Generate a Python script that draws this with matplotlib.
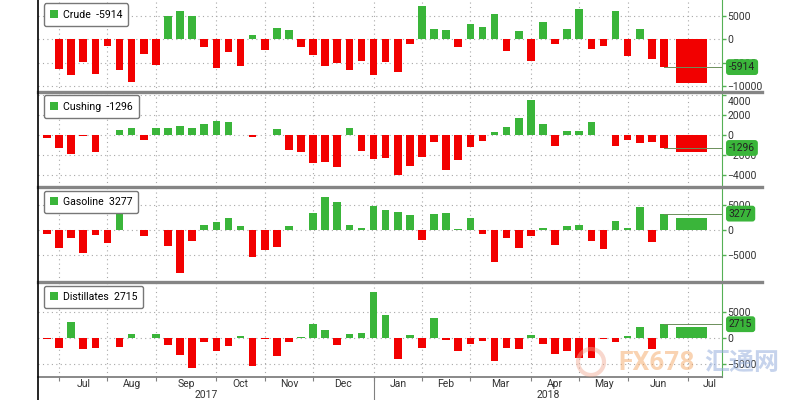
import matplotlib
matplotlib.use("Agg")
import matplotlib.pyplot as plt
import matplotlib.transforms as mtransforms
from matplotlib.patches import Patch, Ellipse
from matplotlib.lines import Line2D

# weekly inventory changes (thousand barrels), Jun 2017 - Jun 2018
names = ["Crude", "Cushing", "Gasoline", "Distillates"]
crude = [0, -6400, -7600, -4800, -7300, -1400, -6600, -9100, -3200, -5400,
         4900, 6100, 4900, -1600, -6100, -2600, -5700, 1000, -2300, 2500,
         2000, -1700, -3400, -5700, -5000, -6600, -4600, -7500, -4900, -6900,
         -900, 7100, 2100, 2000, -1600, 3300, 2700, 5400, -2500, 1800,
         -4600, 3600, -900, 2200, 6500, -2100, -1400, 6100, -3600, 2200,
         -4100, -5914]
cushing = [-270, -1270, -1900, -50, -1670, 50, 500, 670, -500, 670,
           730, 930, 670, 1070, 1400, 1270, 50, -170, 50, 630,
           -1500, -1730, -2830, -2670, -3170, 730, -1570, -2400, -2270, -4000,
           -3070, -2170, -670, -3500, -2500, -1170, -600, 270, 830, 1730,
           3500, 1070, -1100, 430, 370, 1330, 50, -1100, -500, -830,
           -670, -1296]
gasoline = [-870, -3500, -1500, -4500, -1000, -2500, 4000, 0, -1200, 0,
            -3100, -8500, -2100, 1000, 1700, 2500, 870, -5300, -4000, -3300,
            870, 100, 3500, 6700, 5700, 1100, 500, 4800, 4000, 3700,
            3100, -1900, 3300, 3500, 200, 2500, -800, -6300, -1500, -3500,
            -1100, 330, -3000, 870, 1100, -2100, -3800, 1800, 500, 4700,
            -2300, 3277]
distillates = [-200, -1800, 3200, -2100, -1800, 0, -1600, 800, 0, 800,
               -1300, -3200, -5700, -800, -2500, -1500, 450, -5300, -200, -3350,
               -800, 200, 2800, 1600, -1300, 800, 1100, 9000, 4400, -3900,
               650, -1900, 4000, -300, -2400, -1000, -500, -4300, -1900, -2100,
               650, -1100, -3100, -2400, -3800, -3800, -100, -800, 450, 2200,
               -2000, 2715]
wide = [-9400, -1730, 2500, 2200]

months = ["Jul", "Aug", "Sep", "Oct", "Nov", "Dec", "Jan", "Feb", "Mar",
          "Apr", "May", "Jun", "Jul"]
month_starts = [1, 5, 9, 14, 18, 22, 27, 31, 35, 40, 44, 48, 53]
years = ["2017", "2018"]

series = [crude, cushing, gasoline, distillates]
ylims = [(-11150, 8360), (-5200, 4330), (-10400, 8600), (-7380, 10830)]
yticks = [[-10000, -5000, 0, 5000], [-4000, -2000, 0, 2000, 4000],
          [-5000, 0, 5000], [-5000, 0, 5000]]
# panel edges in pixels from top
edges = [(0, 91.7), (91.7, 187), (187, 282), (282, 376.7)]

RED = "#f20000"
GREEN = "#3ab53a"
SPINE = "#55b055"
TXT = "#333333"
XMIN, XMAX = -0.74, 55.8

plt.rcParams["font.family"] = ["Roboto", "DejaVu Sans"]

fig = plt.figure(figsize=(8, 4), dpi=100)
W, H = 800.0, 400.0

axes = []
for k, (top, bot) in enumerate(edges):
    ax = fig.add_axes([38 / W, 1 - bot / H, (722 - 38) / W, (bot - top) / H])
    axes.append(ax)
    vals = series[k]
    x = list(range(len(vals)))
    cols = [GREEN if v >= 0 else RED for v in vals]
    ax.bar(x, vals, width=0.63, color=cols, zorder=2)
    ax.bar(53.3, wide[k], width=2.6, color=GREEN if wide[k] >= 0 else RED, zorder=2)

    last = vals[-1]
    ax.plot([x[-1], XMAX], [last, last], color="#6b8f5a", lw=0.7, zorder=3)

    ax.set_xlim(XMIN, XMAX)
    ax.set_ylim(*ylims[k])
    ax.set_yticks(yticks[k])
    ax.yaxis.tick_right()
    ax.tick_params(axis="y", colors=SPINE, labelcolor=TXT, labelsize=7.5,
                   length=3, width=1, pad=1)
    ax.set_xticks(month_starts)
    ax.grid(True, which="major", linestyle=(0, (1, 3)), color="#a8a8a8", lw=0.8, zorder=0)
    for s in ["top", "left", "bottom"]:
        ax.spines[s].set_visible(False)
    ax.spines["right"].set_color(SPINE)

    ax.legend(handles=[Patch(fc=GREEN, ec="none")], labels=[f"{names[k]}  {last}"],
              loc="upper left", bbox_to_anchor=(0.005, 0.985), fontsize=7.6,
              frameon=True, fancybox=True, edgecolor="#777777", framealpha=1,
              handlelength=0.8, handleheight=0.8, handletextpad=0.4,
              borderpad=0.6, borderaxespad=0.2)

    tr = mtransforms.blended_transform_factory(ax.transAxes, ax.transData)
    ax.annotate(f"{last}", xy=(1.0, last), xycoords=tr, xytext=(5, 0),
                textcoords="offset points", ha="left", va="center", fontsize=7.5,
                color="#222222", annotation_clip=False, zorder=6,
                bbox=dict(boxstyle="round,pad=0.28", fc=GREEN, ec="none"))

    if k < 3:
        ax.tick_params(axis="x", length=0, labelbottom=False)

# nudge the top Cushing label below the separator
top_lab = axes[1].get_yticklabels()[-1]
top_lab.set_transform(top_lab.get_transform() +
                      mtransforms.ScaledTranslation(0, -4 / 72, fig.dpi_scale_trans))

# bottom panel x axis
ax = axes[-1]
ax.spines["bottom"].set_visible(True)
ax.spines["bottom"].set_color("#808080")
ax.spines["bottom"].set_linewidth(1.3)
ax.tick_params(axis="x", which="major", length=3, color="#808080", labelbottom=False)
bounds = month_starts + [56.6]
mids = [(bounds[i] + bounds[i + 1]) / 2 for i in range(len(months))]
ax.set_xticks(mids, minor=True)
ax.set_xticklabels(months, minor=True)
ax.tick_params(axis="x", which="minor", length=0, labelsize=7.5, labelcolor=TXT, pad=2)
trx = mtransforms.blended_transform_factory(ax.transData, ax.transAxes)
ax.text((XMIN + 27) / 2, -0.19, years[0], transform=trx, ha="center", va="center",
        fontsize=7.5, color=TXT)
ax.text((27 + XMAX) / 2, -0.19, years[1], transform=trx, ha="center", va="center",
        fontsize=7.5, color=TXT)
ax.plot([27, 27], [0, -0.25], transform=trx, color="#808080", lw=0.8, clip_on=False)

# panel separators and frame lines
for y in [91.7, 187, 282]:
    fig.add_artist(Line2D([38 / W, 762 / W], [1 - y / H, 1 - y / H], color="#858585", lw=2.4))
fig.add_artist(Line2D([37.5 / W, 37.5 / W], [0, 1], color="black", lw=1.2))

# watermark
fig.add_artist(Ellipse((591 / W, 1 - 362 / H), 26 / W, 26 / H, fill=False,
                       ec="#f0a890", lw=3, alpha=0.45))
fig.text(657 / W, 1 - 363 / H, "FX678", fontsize=19, fontweight="bold", color="#f5a866",
         alpha=0.5, ha="center", va="center")
fig.text(742 / W, 1 - 363 / H, "汇通网", fontsize=18, fontweight="bold", color="#97b0de",
         alpha=0.55, ha="center", va="center", family=["Noto Sans CJK SC", "DejaVu Sans"])

fig.savefig("out.png", dpi=100)
